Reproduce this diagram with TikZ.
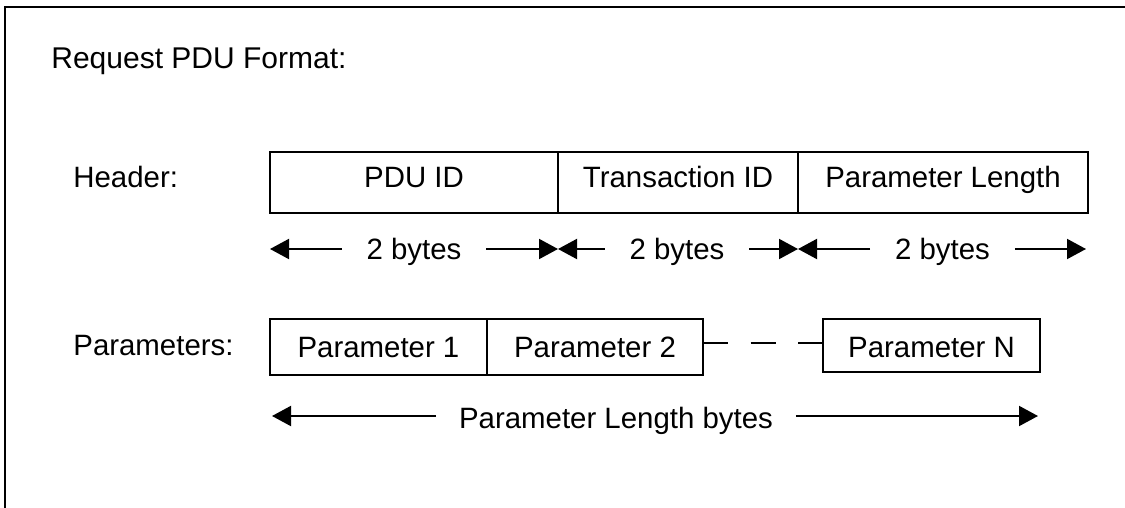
\documentclass[tikz,border=0pt]{standalone}
\usepackage{fontspec}
\setmainfont{Liberation Sans}
\usetikzlibrary{arrows.meta}
\begin{document}
\begin{tikzpicture}[x=0.5pt,y=-0.5pt,
  every node/.style={font=\fontsize{14.7pt}{17pt}\selectfont},
  fld/.style={draw,line width=1pt,inner sep=0pt,outer sep=0pt},
  hfld/.style={fld,minimum height=30.5pt,text height=8.5pt,text depth=3pt},
  pfld/.style={fld,text depth=3pt},
  lbl/.style={inner xsep=12.5pt,inner ysep=0pt,outer sep=0pt,text height=13pt,text depth=3pt},
  arr/.style={line width=1pt,-{Triangle[length=9.5pt,width=10pt]}},
  dashcon/.style={line width=1pt,dash pattern=on 12.5pt off 11.25pt}]
\useasboundingbox (0,0) rectangle (1125,508);
\draw[line width=1pt] (5,508) -- (5,7) -- (1125,7);

\node[anchor=base west,inner sep=0pt,font=\fontsize{15pt}{17pt}\selectfont] (title) at (51,69) {Request PDU Format:};
\node[anchor=base west,inner sep=0pt] (hdr) at (73,188) {Header:};
\node[anchor=base west,inner sep=0pt] (prm) at (73,355) {Parameters:};

% header fields
\node[hfld,minimum width=144pt] (pdu) at (414,182.5) {PDU ID};
\node[hfld,minimum width=120pt] (tid) at (678,182.5) {Transaction ID};
\node[hfld,minimum width=145pt] (plen) at (943,182.5) {Parameter Length\hspace{6pt}};

% byte labels
\node[lbl] (b1) at (414,249) {2 bytes};
\node[lbl] (b2) at (677,249) {2 bytes};
\node[lbl] (b3) at (942.5,249) {2 bytes};
\draw[arr] (b1.west) -- (pdu.west |- b1);
\draw[arr] (b1.east) -- (pdu.east |- b1);
\draw[arr] (b2.west) -- (tid.west |- b2);
\draw[arr] (b2.east) -- (tid.east |- b2);
\draw[arr] (b3.west) -- (plen.west |- b3);
\draw[arr] (b3.east) -- ([xshift=-1pt]plen.east |- b3);

% parameter fields
\node[pfld,minimum width=108.5pt,minimum height=28pt,text height=13pt] (p1) at (378.5,347) {Parameter 1\hspace{7pt}};
\node[pfld,minimum width=108pt,minimum height=28pt,text height=13pt] (p2) at (595,347) {Parameter 2\hspace{7pt}};
\node[pfld,minimum width=108.5pt,minimum height=26.5pt,text height=14.5pt] (pn) at (931.5,345.5) {Parameter N\hspace{5pt}};
\coordinate (dy) at (0,343);
\draw[dashcon] (p2.east |- dy) -- (pn.west |- dy);

% parameter length
\node[inner xsep=11.5pt,inner ysep=0pt,outer sep=0pt,text height=15pt,text depth=3pt] (pl) at (616,416) {Parameter Length bytes};
\draw[arr] (pl.west) -- ([xshift=1pt]p1.west |- pl);
\draw[arr] (pl.east) -- ([xshift=-1pt]pn.east |- pl);
\end{tikzpicture}
\end{document}
